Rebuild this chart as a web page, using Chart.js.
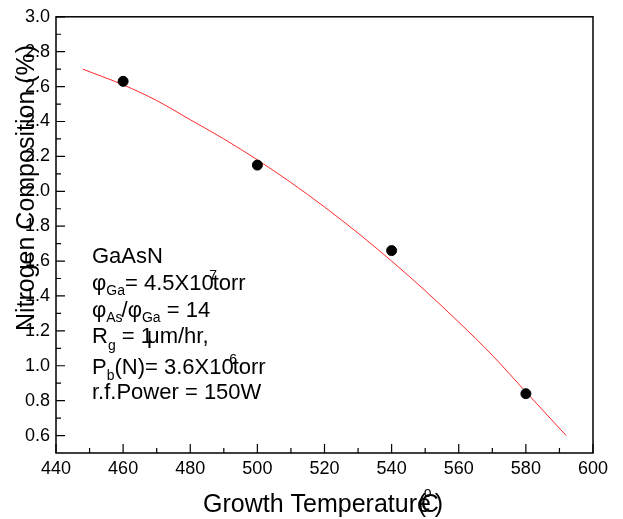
<!DOCTYPE html>
<html lang="en">
<head>
    <meta charset="UTF-8">
    <title>Nitrogen Composition vs Growth Temperature</title>
    <style>
        body { margin: 0; background: #fff; }
        canvas { display: block; }
    </style>
</head>
<body>
    <canvas id="nChart" width="623" height="519"></canvas>

    <script src="https://cdn.jsdelivr.net/npm/chart.js"></script>
    <script>
        // measured points
        const tempC = [460, 500, 540, 580];
        const nitrogen = [2.63, 2.15, 1.66, 0.84];

        // red fit curve
        const fitTemp = [448, 460, 470, 480, 490, 500, 510, 520, 530, 540, 550, 560, 570, 580, 592];
        const fitN = [2.70, 2.61, 2.52, 2.41, 2.30, 2.18, 2.05, 1.91, 1.76, 1.60, 1.43, 1.25, 1.06, 0.85, 0.60];

        // axes
        const xTicks = [440, 460, 480, 500, 520, 540, 560, 580, 600];
        const yTicks = [0.6, 0.8, 1.0, 1.2, 1.4, 1.6, 1.8, 2.0, 2.2, 2.4, 2.6, 2.8, 3.0];

        const FONT = '"Liberation Sans", Arial, Helvetica, sans-serif';

        // draws a list of text pieces one after another: [text, size, dy, dx]
        function drawRuns(ctx, x, y, runs) {
            let cx = x;
            runs.forEach(r => {
                const size = r[1], dy = r[2] || 0, dx = r[3] || 0;
                ctx.font = size + 'px ' + FONT;
                cx += dx;
                ctx.fillText(r[0], cx, y + dy);
                cx += ctx.measureText(r[0]).width;
            });
            return cx;
        }

        const framePlugin = {
            id: 'frame',
            afterDraw(chart) {
                const ctx = chart.ctx;
                const a = chart.chartArea;
                const xs = chart.scales.x, ys = chart.scales.y;
                ctx.save();
                ctx.strokeStyle = '#000';
                ctx.lineWidth = 1.5;
                ctx.strokeRect(a.left, a.top, a.right - a.left, a.bottom - a.top);

                // inward ticks, major + minor
                ctx.lineWidth = 1.2;
                ctx.beginPath();
                xTicks.forEach((v, i) => {
                    const px = xs.getPixelForValue(v);
                    ctx.moveTo(px, a.bottom); ctx.lineTo(px, a.bottom - 9);
                    if (i < xTicks.length - 1) {
                        const mx = xs.getPixelForValue((v + xTicks[i + 1]) / 2);
                        ctx.moveTo(mx, a.bottom); ctx.lineTo(mx, a.bottom - 5);
                    }
                });
                yTicks.forEach((v, i) => {
                    const py = ys.getPixelForValue(v);
                    ctx.moveTo(a.left, py); ctx.lineTo(a.left + 9, py);
                    if (i < yTicks.length - 1) {
                        const my = ys.getPixelForValue((v + yTicks[i + 1]) / 2);
                        ctx.moveTo(a.left, my); ctx.lineTo(a.left + 5, my);
                    }
                });
                ctx.stroke();

                ctx.fillStyle = '#000';
                ctx.textBaseline = 'alphabetic';
                ctx.textAlign = 'left';

                // x title, with the squashed unit as in the original
                ctx.font = '25px ' + FONT;
                const title = 'Growth Temperature';
                ctx.fillText(title, 203, 512);
                const ex = 203 + ctx.measureText(title).width;
                ctx.fillText('(', ex - 13, 512);
                ctx.fillText('C', ex - 10, 512);
                ctx.fillText(')', ex + 4, 512);
                ctx.font = '14px ' + FONT;
                ctx.fillText('o', ex - 7, 497);

                // y title
                ctx.save();
                ctx.translate(27, 188);
                ctx.rotate(-Math.PI / 2);
                ctx.textAlign = 'center';
                ctx.textBaseline = 'middle';
                ctx.font = '25px ' + FONT;
                ctx.fillText('Nitrogen Composition (%)', 0, 0);
                ctx.restore();

                // growth conditions
                const L = 92, big = 22, small = 14;
                drawRuns(ctx, L, 263, [['GaAsN', big]]);
                let e = drawRuns(ctx, L, 290, [['φ', big], ['Ga', small, 5], ['= 4.5X10', big]]);
                drawRuns(ctx, e - 9, 290, [['-7', small, -10]]);
                drawRuns(ctx, e - 1, 290, [['torr', big]]);
                drawRuns(ctx, L, 317, [['φ', big], ['As', small, 5], ['/', big, 0, -1], ['φ', big], ['Ga', small, 5], [' = 14', big]]);
                drawRuns(ctx, L, 343, [['R', big], ['g', small, 7], [' = 1', big], ['μm/hr,', big, 0, -6]]);
                e = drawRuns(ctx, L, 374, [['P', big], ['b', small, 6], ['(N)= 3.6X10', big]]);
                drawRuns(ctx, e - 9, 374, [['-6', small, -10]]);
                drawRuns(ctx, e - 1, 374, [['torr', big]]);
                drawRuns(ctx, L, 399, [['r.f.Power = 150W', big]]);
                ctx.restore();
            }
        };

        const ctx = document.getElementById('nChart').getContext('2d');
        new Chart(ctx, {
            type: 'scatter',
            data: {
                datasets: [{
                    label: 'fit',
                    data: fitTemp.map((t, i) => ({ x: t, y: fitN[i] })),
                    showLine: true,
                    borderColor: '#ff2a2a',
                    borderWidth: 1,
                    pointRadius: 0,
                    tension: 0.3,
                    cubicInterpolationMode: 'monotone',
                    order: 2
                }, {
                    label: 'GaAsN',
                    data: tempC.map((t, i) => ({ x: t, y: nitrogen[i] })),
                    backgroundColor: '#000',
                    borderColor: '#000',
                    pointRadius: 5,
                    order: 1
                }]
            },
            options: {
                responsive: false,
                animation: false,
                layout: { padding: { top: 16, right: 30, left: 0, bottom: 0 } },
                plugins: {
                    legend: { display: false },
                    tooltip: { enabled: false }
                },
                scales: {
                    x: {
                        type: 'linear',
                        min: 440,
                        max: 600,
                        grid: { display: false, drawTicks: false },
                        border: { display: false },
                        afterBuildTicks: s => { s.ticks = xTicks.map(v => ({ value: v })); },
                        afterFit: s => { s.height = 66; },
                        ticks: {
                            color: '#000',
                            padding: 5,
                            maxRotation: 0,
                            font: { family: FONT, size: 18 },
                            callback: v => String(v)
                        }
                    },
                    y: {
                        type: 'linear',
                        min: 0.5,
                        max: 3.0,
                        grid: { display: false, drawTicks: false },
                        border: { display: false },
                        afterBuildTicks: s => { s.ticks = yTicks.map(v => ({ value: v })); },
                        afterFit: s => { s.width = 56; },
                        ticks: {
                            color: '#000',
                            padding: 6,
                            font: { family: FONT, size: 18 },
                            callback: v => v.toFixed(1)
                        }
                    }
                }
            },
            plugins: [framePlugin]
        });
    </script>
</body>
</html>
